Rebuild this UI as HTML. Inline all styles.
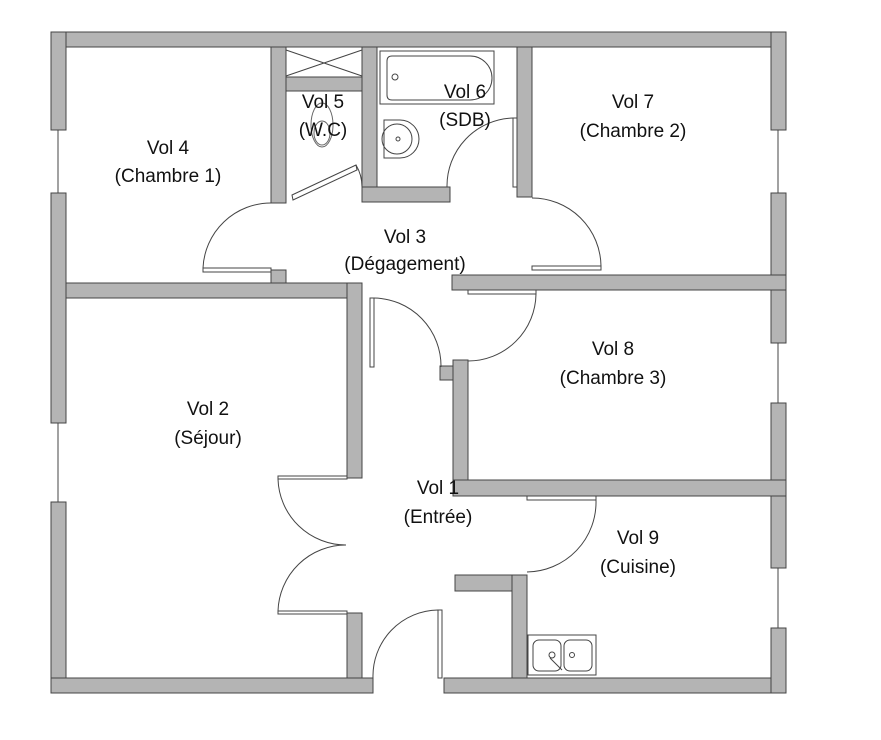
<!DOCTYPE html>
<html><head><meta charset="utf-8"><style>
html,body{margin:0;padding:0;background:#fff;}
svg{display:block;}
text{font-family:"Liberation Sans",sans-serif;font-size:19px;fill:#111;text-anchor:middle;}
</style></head><body>
<svg width="881" height="740" viewBox="0 0 881 740" xmlns="http://www.w3.org/2000/svg">
<g fill="#b4b4b4" stroke="#444" stroke-width="1">
<rect x="51" y="32" width="735" height="15"/>
<rect x="51" y="32" width="15" height="98"/>
<rect x="51" y="193" width="15" height="230"/>
<rect x="51" y="502" width="15" height="191"/>
<rect x="51" y="678" width="322" height="15"/>
<rect x="444" y="678" width="342" height="15"/>
<rect x="771" y="32" width="15" height="98"/>
<rect x="771" y="193" width="15" height="150"/>
<rect x="771" y="403" width="15" height="165"/>
<rect x="771" y="628" width="15" height="65"/>
<rect x="271" y="47" width="15" height="156"/>
<rect x="286" y="77" width="76" height="14"/>
<rect x="362" y="47" width="15" height="140"/>
<rect x="362" y="187" width="88" height="15"/>
<rect x="517" y="47" width="15" height="150"/>
<rect x="66" y="283" width="296" height="15"/>
<rect x="271" y="270" width="15" height="13"/>
<rect x="347" y="283" width="15" height="195"/>
<rect x="347" y="613" width="15" height="65"/>
<rect x="452" y="275" width="334" height="15"/>
<rect x="453" y="360" width="15" height="136"/>
<rect x="440" y="366" width="13" height="14"/>
<rect x="453" y="480" width="333" height="16"/>
<rect x="455" y="575" width="72" height="16"/>
<rect x="512" y="575" width="15" height="103"/>
</g>
<g stroke="#444" stroke-width="1" fill="none">
<line x1="58" y1="130" x2="58" y2="193"/>
<line x1="58" y1="423" x2="58" y2="502"/>
<line x1="778" y1="130" x2="778" y2="193"/>
<line x1="778" y1="343" x2="778" y2="403"/>
<line x1="778" y1="568" x2="778" y2="628"/>
<rect x="286" y="47" width="76" height="30"/>
<line x1="286" y1="50" x2="362" y2="76"/>
<line x1="286" y1="76" x2="362" y2="50"/>
<rect x="203" y="268" width="68" height="4"/>
<path d="M203 268 A68 68 0 0 1 271 203"/>
<rect x="370" y="298" width="4" height="69"/>
<path d="M374 298 A68 68 0 0 1 441 367"/>
<rect x="468" y="290" width="68" height="4"/>
<path d="M536 294 A68 68 0 0 1 468 361"/>
<rect x="513" y="118" width="4" height="69"/>
<path d="M513 118 A68 68 0 0 0 447 187"/>
<rect x="532" y="266" width="69" height="4"/>
<path d="M532 198 A69 69 0 0 1 601 266"/>
<polygon points="292,195 356,165 357,170 293,200"/>
<path d="M356 165 Q362 175 362 187"/>
<rect x="278" y="476" width="69" height="3"/>
<rect x="278" y="611" width="69" height="3"/>
<path d="M278 479 A68 68 0 0 0 346 545 A68 68 0 0 0 278 611"/>
<rect x="438" y="610" width="4" height="68"/>
<path d="M373 678 A66 66 0 0 1 438 610"/>
<rect x="527" y="496" width="69" height="4"/>
<path d="M596 500 A70 70 0 0 1 527 572"/>
<rect x="380" y="51" width="114" height="53"/>
<path d="M392 56 H470 A20 20 0 0 1 470 100 H392 Q387 100 387 95 V61 Q387 56 392 56 Z"/>
<circle cx="395" cy="77" r="3"/>
<path d="M384 120 H400 A19 19 0 0 1 400 158 H384 Z"/>
<circle cx="397" cy="139" r="15"/>
<circle cx="398" cy="139" r="2"/>
<ellipse cx="322" cy="125" rx="11" ry="22" stroke="#666"/>
<ellipse cx="322" cy="133" rx="8" ry="12" stroke="#666"/>
<rect x="528" y="635" width="68" height="40"/>
<rect x="533" y="640" width="28" height="31" rx="6"/>
<rect x="564" y="640" width="28" height="31" rx="6"/>
<circle cx="552" cy="655" r="3"/>
<circle cx="572" cy="655" r="2.5"/>
<line x1="550" y1="658" x2="562" y2="670"/>
</g>
<text x="168" y="154">Vol 4</text><text x="168" y="182">(Chambre 1)</text>
<text x="323" y="108">Vol 5</text><text x="323" y="136">(W.C)</text>
<text x="465" y="98">Vol 6</text><text x="465" y="126">(SDB)</text>
<text x="633" y="108">Vol 7</text><text x="633" y="137">(Chambre 2)</text>
<text x="405" y="243">Vol 3</text><text x="405" y="270">(Dégagement)</text>
<text x="613" y="355">Vol 8</text><text x="613" y="384">(Chambre 3)</text>
<text x="208" y="415">Vol 2</text><text x="208" y="444">(Séjour)</text>
<text x="438" y="494">Vol 1</text><text x="438" y="523">(Entrée)</text>
<text x="638" y="544">Vol 9</text><text x="638" y="573">(Cuisine)</text>
</svg>
</body></html>
